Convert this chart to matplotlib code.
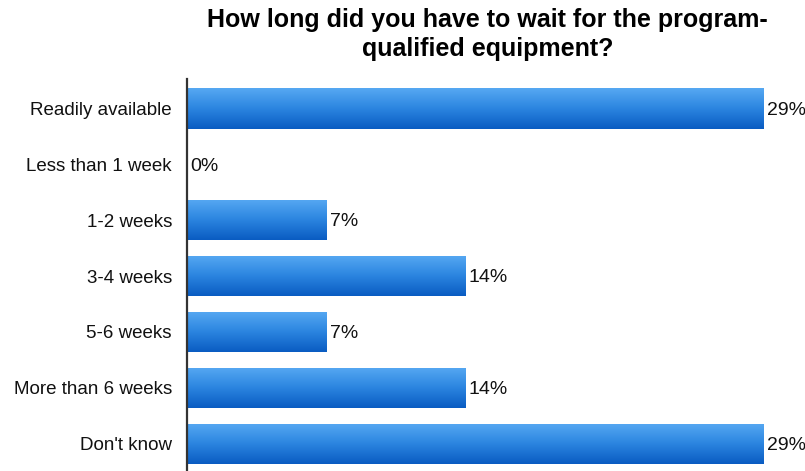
import numpy as np
import matplotlib.pyplot as plt
from matplotlib.colors import LinearSegmentedColormap

plt.rcParams['font.family'] = ['Liberation Sans', 'DejaVu Sans']

categories = ['Readily available', 'Less than 1 week', '1-2 weeks', '3-4 weeks',
              '5-6 weeks', 'More than 6 weeks', "Don't know"]
percent = [29, 0, 7, 14, 7, 14, 29]
title = 'How long did you have to wait for the program-\nqualified equipment?'

fig = plt.figure(figsize=(8.05, 4.71), dpi=100)
ax = fig.add_axes([0.2317, -0.0047, 0.765, 0.837])

ypos = np.arange(len(categories))
bars = ax.barh(ypos, percent, height=0.72, color='none', edgecolor='none')

# vertical blue gradient, light at the top, dark at the bottom
grad = LinearSegmentedColormap.from_list('bar', ['#56a8f2', '#2b85e0', '#0a5cc2'])
shade = np.linspace(0, 1, 64).reshape(-1, 1)
for b in bars:
    w = b.get_width()
    if w <= 0:
        continue
    y0 = b.get_y()
    h = b.get_height()
    im = ax.imshow(shade, cmap=grad, aspect='auto', interpolation='bilinear',
                   extent=(0, w, y0 + h, y0), zorder=2)
    im.set_clip_path(b)

for y, v in zip(ypos, percent):
    ax.text(v + 0.2, y + 0.03, f'{v}%', va='center', ha='left', fontsize=14,
            color='#111111', clip_on=False)

ax.set_xlim(0, 31)
ax.set_ylim(len(categories) - 0.47, -0.53)
ax.set_yticks(ypos)
ax.set_yticklabels(categories, fontsize=13.5, color='#111111')
ax.tick_params(axis='y', length=0, pad=10.5)
ax.set_xticks([])
for side in ['top', 'right', 'bottom']:
    ax.spines[side].set_visible(False)
ax.spines['left'].set_color('#333333')
ax.spines['left'].set_linewidth(1.6)

fig.text(0.6055, 0.983, title, ha='center', va='top', fontsize=18,
         fontweight='bold', linespacing=1.25)

fig.savefig('out.png', dpi=100)
